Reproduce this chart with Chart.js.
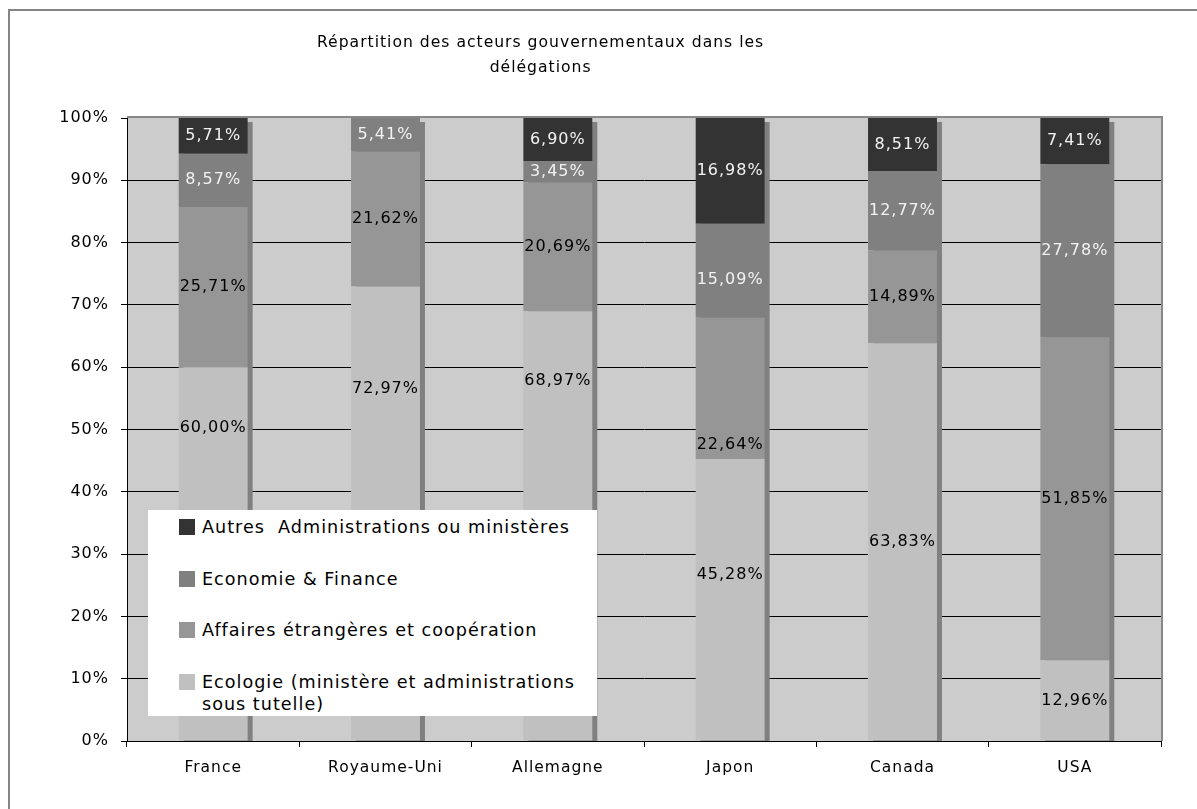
<!DOCTYPE html>
<html lang="fr">
<head>
<meta charset="utf-8">
<title>Répartition des acteurs gouvernementaux dans les délégations</title>
<script src="https://cdn.jsdelivr.net/npm/chart.js@4/dist/chart.umd.min.js"></script>
<style>
  html, body { margin: 0; padding: 0; background: #fff; overflow: hidden; }
  #wrap { position: relative; width: 1197px; height: 809px; }
  #legend {
    position: absolute; left: 148px; top: 510px; width: 449px; height: 206px;
    background: #fff; box-sizing: border-box; padding: 6px 0 0 31px;
    font-family: "DejaVu Sans", Verdana, sans-serif; font-size: 17.6px;
    letter-spacing: 1px; color: #000;
  }
  #legend .item { display: flex; align-items: flex-start; height: 51.5px; }
  #legend .box { width: 16px; height: 16px; margin: 3px 7px 0 0; flex: none; }
  #legend .txt { width: 395px; line-height: 22px; white-space: pre-wrap; }
</style>
</head>
<body>
<div id="wrap">
  <canvas id="chart"></canvas>
  <div id="legend"></div>
</div>
<script>
// pays
const pays = ["France", "Royaume-Uni", "Allemagne", "Japon", "Canada", "USA"];

// parts en % par type d'acteur
const ecologie   = [60.00, 72.97, 68.97, 45.28, 63.83, 12.96];
const affaires   = [25.71, 21.62, 20.69, 22.64, 14.89, 51.85];
const economie   = [8.57, 5.41, 3.45, 15.09, 12.77, 27.78];
const autres     = [5.71, 0, 6.90, 16.98, 8.51, 7.41];

const seriesNames = [
  "Ecologie (ministère et administrations sous tutelle)",
  "Affaires étrangères et coopération",
  "Economie & Finance",
  "Autres  Administrations ou ministères"
];
const yTicks = [0, 10, 20, 30, 40, 50, 60, 70, 80, 90, 100];

const titleLines = ["Répartition des acteurs gouvernementaux dans les", "délégations"];

// étiquettes déplacées à la main (valeur de l'axe où poser le texte)
const labelAt = {
  "0-0": 50.2, "0-1": 56.5, "0-2": 57.8, "0-3": 26.6,
  "1-3": 47.5, "2-3": 74
};

const FONT = '"DejaVu Sans", Verdana, sans-serif';
const colors = ["#c0c0c0", "#969696", "#808080", "#333333"];
const labelColors = ["#000", "#000", "#f2f2f2", "#f2f2f2"];

const datasets = [ecologie, affaires, economie, autres].map((d, i) => ({
  label: seriesNames[i],
  data: d,
  backgroundColor: colors[i],
  borderWidth: 0,
  stack: "s",
  categoryPercentage: 1,
  barPercentage: 0.4
}));

const frame = {
  id: "frame",
  beforeDraw(chart) {
    const { ctx, chartArea: a } = chart;
    ctx.letterSpacing = "1px";
    ctx.save();
    // cadre extérieur
    ctx.strokeStyle = "#858585";
    ctx.lineWidth = 2;
    ctx.beginPath();
    ctx.moveTo(9, chart.height);
    ctx.lineTo(9, 10);
    ctx.lineTo(chart.width, 10);
    ctx.stroke();
    // fond de la zone de traçage
    ctx.fillStyle = "#cccccc";
    ctx.fillRect(a.left, a.top, a.right - a.left, a.bottom - a.top);
    // titre
    ctx.fillStyle = "#000";
    ctx.font = "15.6px " + FONT;
    ctx.textAlign = "center";
    ctx.textBaseline = "middle";
    const cx = a.left + (a.right - a.left) * 0.4;
    titleLines.forEach((t, i) => ctx.fillText(t, cx, 43 + i * 25));
    ctx.restore();
  },
  beforeDatasetsDraw(chart) {
    // ombre à droite des colonnes
    const { ctx, chartArea: a } = chart;
    const metas = chart.getSortedVisibleDatasetMetas();
    ctx.save();
    ctx.fillStyle = "#808080";
    pays.forEach((p, i) => {
      let top = Infinity, el0 = null;
      metas.forEach(m => {
        const el = m.data[i];
        if (!el) return;
        el0 = el;
        top = Math.min(top, el.y);
      });
      if (!el0) return;
      const w = el0.width;
      ctx.fillRect(el0.x - w / 2 + 5, Math.max(top, a.top) + 4, w, a.bottom - Math.max(top, a.top) - 4);
    });
    ctx.restore();
  },
  afterDatasetsDraw(chart) {
    const { ctx, chartArea: a } = chart;
    const y = chart.scales.y;
    ctx.save();
    // bord haut et droit de la zone
    ctx.strokeStyle = "#888";
    ctx.lineWidth = 2;
    ctx.beginPath();
    ctx.moveTo(a.left, a.top - 1);
    ctx.lineTo(a.right + 1, a.top - 1);
    ctx.lineTo(a.right + 1, a.bottom);
    ctx.stroke();
    // valeurs
    ctx.font = "16px " + FONT;
    ctx.textAlign = "center";
    ctx.textBaseline = "middle";
    chart.getSortedVisibleDatasetMetas().forEach(m => {
      const ds = m.index;
      m.data.forEach((el, i) => {
        const v = chart.data.datasets[ds].data[i];
        if (!v) return;
        const key = ds + "-" + i;
        const ty = key in labelAt ? y.getPixelForValue(labelAt[key]) : (el.y + el.base) / 2;
        ctx.fillStyle = labelColors[ds];
        ctx.fillText(v.toFixed(2).replace(".", ",") + "%", el.x, ty);
      });
    });
    ctx.restore();
  }
};

new Chart(document.getElementById("chart"), {
  type: "bar",
  data: { labels: pays, datasets },
  plugins: [frame],
  options: {
    responsive: true,
    maintainAspectRatio: false,
    animation: false,
    layout: { padding: { left: 0, top: 118, right: 36, bottom: 0 } },
    plugins: { legend: { display: false }, tooltip: { enabled: false }, title: { display: false } },
    scales: {
      x: {
        stacked: true,
        afterFit(s) { s.height = 68; },
        border: { color: "#000", width: 1 },
        grid: { drawOnChartArea: false, tickLength: 6, tickColor: "#000", offset: true },
        ticks: { color: "#000", padding: 12, font: { family: FONT, size: 15.5 } }
      },
      y: {
        stacked: true,
        min: 0,
        max: 100,
        afterFit(s) { s.width = 127; },
        afterBuildTicks(s) { s.ticks = yTicks.map(v => ({ value: v })); },
        border: { color: "#000", width: 1 },
        grid: {
          color: c => (c.tick && c.tick.value === 100 ? "rgba(0,0,0,0)" : "#000"),
          lineWidth: 1,
          tickLength: 6,
          tickColor: "#000"
        },
        ticks: {
          color: "#000",
          padding: 12,
          font: { family: FONT, size: 16 },
          callback: v => v + "%"
        }
      }
    }
  }
});

// légende, ordre inversé comme dans la pile
const legend = document.getElementById("legend");
for (let i = seriesNames.length - 1; i >= 0; i--) {
  const item = document.createElement("div");
  item.className = "item";
  const box = document.createElement("span");
  box.className = "box";
  box.style.background = colors[i];
  const txt = document.createElement("span");
  txt.className = "txt";
  txt.textContent = seriesNames[i];
  item.append(box, txt);
  legend.appendChild(item);
}
</script>
</body>
</html>
